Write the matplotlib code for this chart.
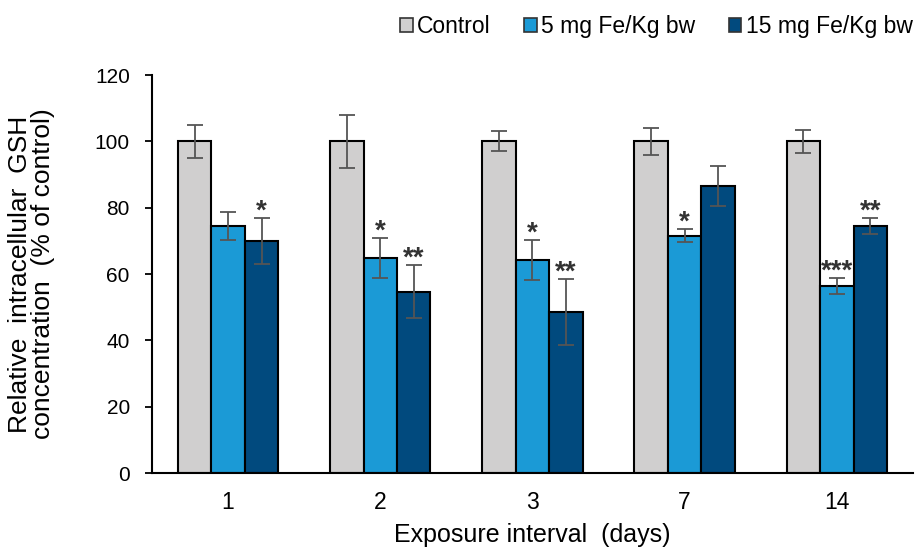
import matplotlib
matplotlib.use("Agg")
import matplotlib.pyplot as plt
import numpy as np

plt.rcParams['font.family'] = ['Liberation Sans', 'DejaVu Sans']

categories = ["1", "2", "3", "7", "14"]
series_names = ["Control", "5 mg Fe/Kg bw", "15 mg Fe/Kg bw"]
control = [100, 100, 100, 100, 100]
control_err = [5, 8, 3, 4, 3.5]
fe5 = [74.6, 64.9, 64.2, 71.6, 56.4]
fe5_err = [4.2, 6, 6, 2, 2.4]
fe15 = [69.9, 54.6, 48.6, 86.6, 74.6]
fe15_err = [7, 8, 10, 6, 2.4]
fe5_sig = ["", "*", "*", "*", "***"]
fe15_sig = ["*", "**", "**", "", "**"]

colors = ["#D0CFCF", "#1B9AD6", "#014A7E"]

fig = plt.figure(figsize=(9.23, 5.52), dpi=100)
ax = fig.add_axes([0.1647, 0.1431, 0.8243, 0.7209])

x = np.arange(len(categories))
w = 0.22
vals = [control, fe5, fe15]
errs = [control_err, fe5_err, fe15_err]
for i, (v, e) in enumerate(zip(vals, errs)):
    ax.bar(x + (i - 1) * w, v, w, color=colors[i], edgecolor="black",
           linewidth=1.5, label=series_names[i], zorder=2)
    ax.errorbar(x + (i - 1) * w, v, yerr=e, fmt="none", ecolor="#555555",
                elinewidth=1.3, capsize=6, capthick=1.3, zorder=3)

for i, (s, v, e) in enumerate(zip(fe5_sig, fe5, fe5_err)):
    if s:
        ax.text(x[i], v + e - 2, s, ha="center", va="bottom",
                fontsize=20, fontweight="bold", color="#333333")
for i, (s, v, e) in enumerate(zip(fe15_sig, fe15, fe15_err)):
    if s:
        ax.text(x[i] + w, v + e - 2, s, ha="center", va="bottom",
                fontsize=20, fontweight="bold", color="#333333")

ax.set_xlim(-0.5, len(categories) - 0.5)
ax.set_ylim(0, 120)
ax.set_yticks(np.arange(0, 121, 20))
ax.set_xticks(x)
ax.set_xticklabels(categories)
ax.tick_params(axis="x", length=0, labelsize=16.5, pad=13)
ax.tick_params(axis="y", length=5, width=1.3, labelsize=15, pad=11,
               direction="out")
for sp in ["top", "right"]:
    ax.spines[sp].set_visible(False)
for sp in ["left", "bottom"]:
    ax.spines[sp].set_linewidth(1.5)

ax.set_xlabel("Exposure interval  (days)", fontsize=18)
ax.xaxis.set_label_coords(0.5, -0.126)
ax.set_ylabel("Relative  intracellular  GSH\nconcentration  (% of control)",
              fontsize=19, linespacing=0.95)
ax.yaxis.set_label_coords(-0.127, 0.5)

leg = ax.legend(loc="lower right", bbox_to_anchor=(1.012, 1.07), ncol=3,
                frameon=False, fontsize=16.5, handlelength=0.55,
                handleheight=0.55, handletextpad=0.2, columnspacing=1.45,
                borderaxespad=0)
for h in leg.legend_handles:
    h.set_edgecolor("#333333")
    h.set_linewidth(1.2)

fig.savefig("out.png", dpi=100)
